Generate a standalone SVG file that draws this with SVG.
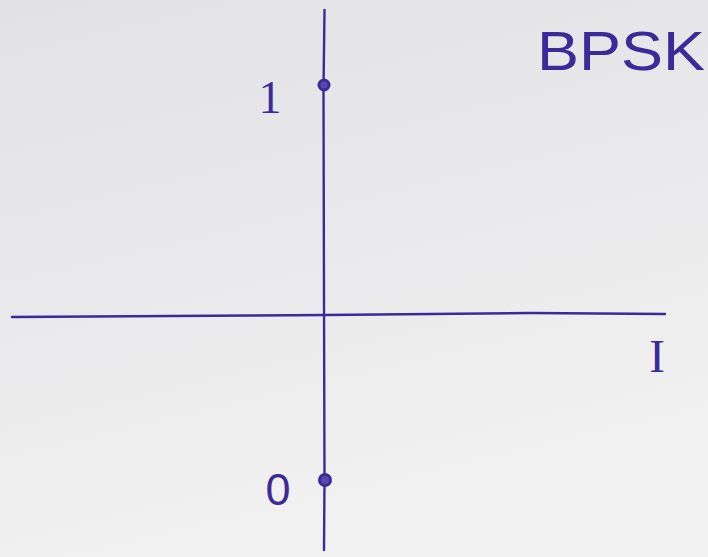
<svg xmlns="http://www.w3.org/2000/svg" width="708" height="557" viewBox="0 0 708 557">
<defs>
<linearGradient id="paper" x1="0" y1="0" x2="0.3" y2="1">
<stop offset="0" stop-color="#e2e2e5"/>
<stop offset="0.5" stop-color="#e9e9eb"/>
<stop offset="1" stop-color="#f1f1f1"/>
</linearGradient>
</defs>
<style>
.ink{stroke:#3b2a98;fill:none;stroke-linecap:round}
.axis{stroke-width:2.4}
.pt{stroke-width:3;fill:#5a48b0}
.lbl{font-family:"Liberation Sans",Arial,sans-serif;fill:#3b2a98}
.serif{font-family:"Liberation Serif","Times New Roman",serif}
</style>
<rect width="708" height="557" fill="url(#paper)"/>
<g id="connectors">
<path id="axis-Q" class="ink axis" d="M324.5,10 L323.5,90 L324,300 L324.5,480 L324,550"/>
<path id="axis-I" class="ink axis" d="M12,317 L250,315.5 L325,315 L530,313 L665,314"/>
</g>
<g id="point-1">
<circle class="ink pt" cx="324" cy="85" r="5"/>
<text class="lbl serif" x="270" y="113" font-size="46" text-anchor="middle">1</text>
</g>
<g id="point-0">
<circle class="ink pt" cx="325" cy="480" r="5.5"/>
<text class="lbl" x="278" y="505" font-size="45" text-anchor="middle">0</text>
</g>
<g id="label-I">
<text class="lbl serif" x="657" y="372" font-size="47" text-anchor="middle">I</text>
</g>
<g id="title">
<text class="lbl" x="537" y="70" font-size="56" textLength="168" lengthAdjust="spacingAndGlyphs">BPSK</text>
</g>
</svg>
